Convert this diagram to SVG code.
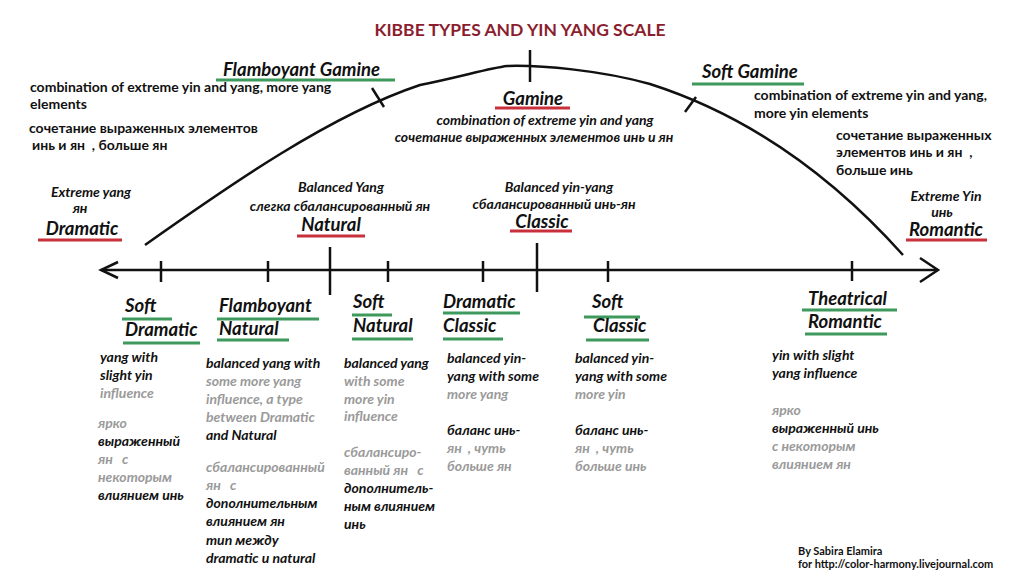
<svg xmlns="http://www.w3.org/2000/svg" width="1024" height="580" viewBox="0 0 1024 580">
<style>
text{font-family:Lato,"Noto Sans","DejaVu Sans",sans-serif;fill:#111;white-space:pre;}
.t{font-size:17.5px;font-weight:bold;fill:#8b1e2e;}
.h{font-size:18.5px;font-weight:bold;font-style:italic;}
.d{font-size:14px;font-weight:bold;}
.di{font-size:14px;font-weight:bold;font-style:italic;}
.g{fill:#9a9a9a;}
.ug{stroke:#3d9a5c;stroke-width:3;}
.ur{stroke:#c8303c;stroke-width:3;}
.ln{stroke:#111;stroke-width:2.5;fill:none;}
.cr{font-size:11px;font-weight:bold;}
</style>
<rect width="1024" height="580" fill="#fff"/>
<text class="t" x="520" y="36" text-anchor="middle">KIBBE TYPES AND YIN YANG SCALE</text>

<g id="connectors">
  <path class="ln" d="M145,245 C230,185 330,115 420,85 C460,77 490,68 507,66 C540,65 600,70 650,84 C700,100 800,140 903,255"/>
  <line class="ln" x1="372" y1="88" x2="384" y2="107"/>
  <line class="ln" x1="530" y1="50" x2="530" y2="82"/>
  <line class="ln" x1="696" y1="97" x2="685" y2="112"/>
  <line class="ln" x1="101" y1="270" x2="938" y2="270"/>
  <polyline class="ln" points="118,262 101,270 118,278"/>
  <polyline class="ln" points="920,258 938,270 920,282"/>
  <line class="ln" x1="161" y1="261" x2="161" y2="282"/>
  <line class="ln" x1="268" y1="261" x2="268" y2="282"/>
  <line class="ln" x1="330" y1="247" x2="330" y2="295"/>
  <line class="ln" x1="388" y1="261" x2="388" y2="282"/>
  <line class="ln" x1="483" y1="261" x2="483" y2="282" stroke="#666"/>
  <line class="ln" x1="537" y1="243" x2="537" y2="292"/>
  <line class="ln" x1="608" y1="261" x2="608" y2="282"/>
  <line class="ln" x1="852" y1="261" x2="852" y2="281"/>
</g>

<g id="flamboyant-gamine">
  <text class="h" x="223" y="76">Flamboyant Gamine</text>
  <line class="ug" x1="216" y1="80" x2="395" y2="80"/>
  <text class="d" x="30" y="92">combination of extreme yin and yang, more yang</text>
  <text class="d" x="30" y="109">elements</text>
  <text class="d" x="29" y="133">сочетание выраженных элементов</text>
  <text class="d" x="32" y="150">инь и ян  , больше ян</text>
</g>

<g id="gamine">
  <text class="h" x="533" y="105" text-anchor="middle">Gamine</text>
  <line class="ur" x1="495" y1="108" x2="570" y2="108"/>
  <text class="di" x="545" y="125" text-anchor="middle">combination of extreme yin and yang</text>
  <text class="di" x="534" y="142" text-anchor="middle">сочетание выраженных элементов инь и ян</text>
</g>

<g id="soft-gamine">
  <text class="h" x="702" y="78">Soft Gamine</text>
  <line class="ug" x1="692" y1="84" x2="804" y2="84"/>
  <text class="d" x="754" y="100">combination of extreme yin and yang,</text>
  <text class="d" x="754" y="118">more yin elements</text>
  <text class="d" x="836" y="140">сочетание выраженных</text>
  <text class="d" x="836" y="157">элементов инь и ян  ,</text>
  <text class="d" x="836" y="175">больше инь</text>
</g>

<g id="dramatic">
  <text class="di" x="91" y="197" text-anchor="middle">Extreme yang</text>
  <text class="di" x="80" y="213" text-anchor="middle">ян</text>
  <text class="h" x="82" y="235" text-anchor="middle">Dramatic</text>
  <line class="ur" x1="38" y1="240" x2="122" y2="240"/>
</g>

<g id="natural">
  <text class="di" x="341" y="192" text-anchor="middle">Balanced Yang</text>
  <text class="di" x="340" y="211" text-anchor="middle">слегка сбалансированный ян</text>
  <text class="h" x="331" y="231" text-anchor="middle">Natural</text>
  <line class="ur" x1="297" y1="236" x2="365" y2="236"/>
</g>

<g id="classic">
  <text class="di" x="559" y="192" text-anchor="middle">Balanced yin-yang</text>
  <text class="di" x="554" y="209" text-anchor="middle">сбалансированный инь-ян</text>
  <text class="h" x="542" y="228" text-anchor="middle">Classic</text>
  <line class="ur" x1="510" y1="231" x2="572" y2="231"/>
</g>

<g id="romantic">
  <text class="di" x="946" y="201" text-anchor="middle">Extreme Yin</text>
  <text class="di" x="942" y="217" text-anchor="middle">инь</text>
  <text class="h" x="946" y="236" text-anchor="middle">Romantic</text>
  <line class="ur" x1="906" y1="240" x2="987" y2="240"/>
</g>

<g id="soft-dramatic">
  <text class="h" x="125" y="312">Soft</text>
  <line class="ug" x1="122" y1="319" x2="172" y2="319"/>
  <text class="h" x="125" y="336">Dramatic</text>
  <line class="ug" x1="123" y1="343" x2="200" y2="343"/>
  <text class="di" x="100" y="362">yang with</text>
  <text class="di" x="100" y="380">slight yin</text>
  <text class="di g" x="100" y="398">influence</text>
  <text class="di g" x="98" y="428">ярко</text>
  <text class="di" x="98" y="446">выраженный</text>
  <text class="di g" x="98" y="464">ян   с</text>
  <text class="di g" x="98" y="482">некоторым</text>
  <text class="di" x="98" y="500">влиянием инь</text>
</g>

<g id="flamboyant-natural">
  <text class="h" x="219" y="312">Flamboyant</text>
  <line class="ug" x1="217" y1="319" x2="319" y2="319"/>
  <text class="h" x="219" y="335">Natural</text>
  <line class="ug" x1="217" y1="340" x2="289" y2="340"/>
  <text class="di" x="206" y="368">balanced yang with</text>
  <text class="di g" x="206" y="386">some more yang</text>
  <text class="di g" x="206" y="404">influence, a type</text>
  <text class="di g" x="206" y="422">between Dramatic</text>
  <text class="di" x="206" y="440">and Natural</text>
  <text class="di g" x="206" y="472">сбалансированный</text>
  <text class="di g" x="206" y="490">ян   с</text>
  <text class="di" x="206" y="508">дополнительным</text>
  <text class="di" x="206" y="526">влиянием ян</text>
  <text class="di" x="206" y="545">тип между</text>
  <text class="di" x="206" y="563">dramatic и natural</text>
</g>

<g id="soft-natural">
  <text class="h" x="353" y="308">Soft</text>
  <line class="ug" x1="352" y1="315" x2="392" y2="315"/>
  <text class="h" x="353" y="332">Natural</text>
  <line class="ug" x1="352" y1="339" x2="413" y2="339"/>
  <text class="di" x="344" y="368">balanced yang</text>
  <text class="di g" x="344" y="386">with some</text>
  <text class="di g" x="344" y="404">more yin</text>
  <text class="di g" x="344" y="421">influence</text>
  <text class="di g" x="344" y="457">сбалансиро-</text>
  <text class="di g" x="344" y="475">ванный ян   с</text>
  <text class="di" x="344" y="493">дополнитель-</text>
  <text class="di" x="344" y="511">ным влиянием</text>
  <text class="di" x="344" y="529">инь</text>
</g>

<g id="dramatic-classic">
  <text class="h" x="443" y="308">Dramatic</text>
  <line class="ug" x1="443" y1="313" x2="520" y2="313"/>
  <text class="h" x="443" y="332">Classic</text>
  <line class="ug" x1="443" y1="339" x2="503" y2="339"/>
  <text class="di" x="447" y="363">balanced yin-</text>
  <text class="di" x="447" y="381">yang with some</text>
  <text class="di g" x="447" y="399">more yang</text>
  <text class="di" x="447" y="435">баланс инь-</text>
  <text class="di g" x="447" y="453">ян  , чуть</text>
  <text class="di g" x="447" y="471">больше ян</text>
</g>

<g id="soft-classic">
  <text class="h" x="592" y="308">Soft</text>
  <line class="ug" x1="584" y1="317" x2="640" y2="317"/>
  <text class="h" x="593" y="332">Classic</text>
  <line class="ug" x1="586" y1="340" x2="649" y2="340"/>
  <text class="di" x="575" y="363">balanced yin-</text>
  <text class="di" x="575" y="381">yang with some</text>
  <text class="di g" x="575" y="399">more yin</text>
  <text class="di" x="575" y="435">баланс инь-</text>
  <text class="di g" x="575" y="453">ян  , чуть</text>
  <text class="di g" x="575" y="471">больше инь</text>
</g>

<g id="theatrical-romantic">
  <text class="h" x="808" y="305">Theatrical</text>
  <line class="ug" x1="802" y1="310" x2="897" y2="310"/>
  <text class="h" x="808" y="328">Romantic</text>
  <line class="ug" x1="805" y1="334" x2="887" y2="334"/>
  <text class="di" x="772" y="360">yin with slight</text>
  <text class="di" x="772" y="378">yang influence</text>
  <text class="di g" x="772" y="415">ярко</text>
  <text class="di" x="772" y="433">выраженный инь</text>
  <text class="di g" x="772" y="451">с некоторым</text>
  <text class="di g" x="772" y="469">влиянием ян</text>
</g>

<g id="credits">
  <text class="cr" x="798" y="555">By Sabira Elamira</text>
  <text class="cr" x="798" y="568">for http://color-harmony.livejournal.com</text>
</g>
</svg>
